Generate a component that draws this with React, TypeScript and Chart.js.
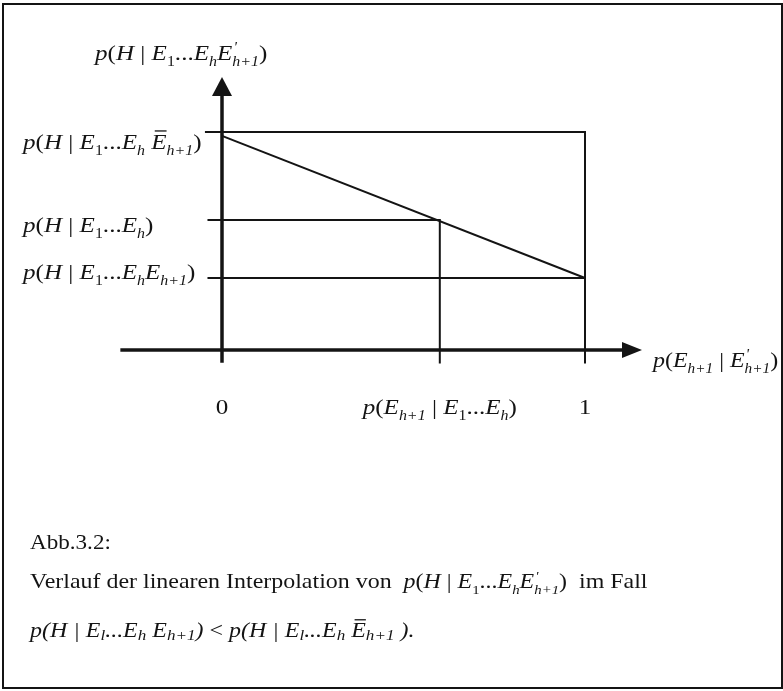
import React, { useEffect, useRef } from "react";
import { Chart, registerables } from "chart.js";

Chart.register(...registerables);

// ---- data (figure values in chart units) ----
const xTickValues = [0, 0.6, 1]; // 0, p(E_{h+1} | E1...Eh), 1
const yLevelValues = [1, 0.397, 0]; // p(H|..Ē), p(H|E1..Eh), p(H|..E)
const interpX = [0, 1];
const interpY = [0.973, 0];
const guideStartX = [-0.047, -0.04, -0.04];
const guideBottomY = -0.585;
const xAxisY = -0.493;
const xAxisRange = [-0.28, 1.157];
const yAxisRange = [-0.58, 1.377];

type Tok = [string, string];
// kinds: i italic, r roman, si sub italic, sr sub roman, q prime (stacked), o italic overlined
const yTitleLabel: Tok[] = [["p", "i"], ["(", "r"], ["H", "i"], [" | ", "r"], ["E", "i"], ["1", "sr"], ["...", "r"], ["E", "i"], ["h", "si"], ["E", "i"], ["'", "q"], ["h+1", "si"], [")", "r"]];
const yLevelLabels: Tok[][] = [
  [["p", "i"], ["(", "r"], ["H", "i"], [" | ", "r"], ["E", "i"], ["1", "sr"], ["...", "r"], ["E", "i"], ["h", "si"], [" ", "r"], ["E", "o"], ["h+1", "si"], [")", "r"]],
  [["p", "i"], ["(", "r"], ["H", "i"], [" | ", "r"], ["E", "i"], ["1", "sr"], ["...", "r"], ["E", "i"], ["h", "si"], [")", "r"]],
  [["p", "i"], ["(", "r"], ["H", "i"], [" | ", "r"], ["E", "i"], ["1", "sr"], ["...", "r"], ["E", "i"], ["h", "si"], ["E", "i"], ["h+1", "si"], [")", "r"]],
];
const xTickLabels: Tok[][] = [
  [["0", "r"]],
  [["p", "i"], ["(", "r"], ["E", "i"], ["h+1", "si"], [" | ", "r"], ["E", "i"], ["1", "sr"], ["...", "r"], ["E", "i"], ["h", "si"], [")", "r"]],
  [["1", "r"]],
];
const xTitleLabel: Tok[] = [["p", "i"], ["(", "r"], ["E", "i"], ["h+1", "si"], [" | ", "r"], ["E", "i"], ["'", "q"], ["h+1", "si"], [")", "r"]];
const captionTitle: Tok[] = [["Abb.3.2:", "r"]];
const captionLine1: Tok[] = [["Verlauf der linearen Interpolation von  ", "r"], ["p", "i"], ["(", "r"], ["H", "i"], [" | ", "r"], ["E", "i"], ["1", "sr"], ["...", "r"], ["E", "i"], ["h", "si"], ["E", "i"], ["'", "q"], ["h+1", "si"], [")", "r"], ["  im Fall", "r"]];
const captionLine2: Tok[] = [["p(H | E", "i"], ["l", "si"], ["...E", "i"], ["h", "si"], [" E", "i"], ["h+1", "si"], [")", "i"], [" < ", "r"], ["p(H | E", "i"], ["l", "si"], ["...E", "i"], ["h", "si"], [" ", "i"], ["E", "o"], ["h+1", "si"], [" ).", "i"]];

const FAMILY = '"Liberation Serif", "Times New Roman", serif';
const INK = "#141414";

function tokFont(kind: string, size: number, subScale: number) {
  const sub = kind === "si" || kind === "sr" || kind === "q";
  const s = sub ? Math.round(size * subScale) : size;
  const italic = kind === "i" || kind === "si" || kind === "o" || kind === "q";
  return `${italic ? "italic " : ""}${s}px ${FAMILY}`;
}

interface RichOpts {
  align?: "left" | "center";
  subDrop?: number;
  subScale?: number;
  stretch?: number;
}

function richWidth(ctx: CanvasRenderingContext2D, toks: Tok[], size: number, subScale: number) {
  let w = 0;
  for (const [t, k] of toks) {
    ctx.font = tokFont(k, size, subScale);
    if (k !== "q") w += ctx.measureText(t).width;
  }
  return w;
}

function drawRich(ctx: CanvasRenderingContext2D, toks: Tok[], x: number, y: number, size: number, opts: RichOpts = {}) {
  const align = opts.align || "left";
  const subDrop = opts.subDrop ?? 0.28;
  const subScale = opts.subScale ?? 0.64;
  const k = opts.stretch ?? 1;
  const total = richWidth(ctx, toks, size, subScale);
  const x0 = align === "center" ? x - (total * k) / 2 : x;
  ctx.save();
  ctx.translate(x0, y);
  ctx.scale(k, 1);
  ctx.fillStyle = INK;
  ctx.strokeStyle = INK;
  ctx.textAlign = "left";
  ctx.textBaseline = "alphabetic";
  let cx = 0;
  for (const [t, kind] of toks) {
    ctx.font = tokFont(kind, size, subScale);
    const w = ctx.measureText(t).width;
    if (kind === "si" || kind === "sr") {
      ctx.fillText(t, cx, size * subDrop);
      cx += w;
    } else if (kind === "q") {
      ctx.fillText(t, cx + 1, -size * 0.38);
    } else {
      ctx.fillText(t, cx, 0);
      if (kind === "o") {
        ctx.lineWidth = 1.3;
        ctx.beginPath();
        ctx.moveTo(cx + size * 0.14, -size * 0.82);
        ctx.lineTo(cx + w, -size * 0.82);
        ctx.stroke();
      }
      cx += w;
    }
  }
  ctx.restore();
}

const figurePlugin = {
  id: "figure",
  afterDraw(chart: any) {
    const ctx: CanvasRenderingContext2D = chart.ctx;
    const xs = chart.scales.x;
    const ys = chart.scales.y;
    const px = (v: number) => xs.getPixelForValue(v);
    const py = (v: number) => ys.getPixelForValue(v);
    ctx.save();
    // frame
    ctx.strokeStyle = INK;
    ctx.lineWidth = 2;
    ctx.strokeRect(3, 4, 779, 684);
    // arrow heads
    ctx.fillStyle = INK;
    const ax = px(0);
    const tipY = py(yAxisRange[1]);
    ctx.beginPath();
    ctx.moveTo(ax, tipY);
    ctx.lineTo(ax - 10, tipY + 19);
    ctx.lineTo(ax + 10, tipY + 19);
    ctx.closePath();
    ctx.fill();
    const tipX = px(xAxisRange[1]);
    const ay = py(xAxisY);
    ctx.beginPath();
    ctx.moveTo(tipX, ay);
    ctx.lineTo(tipX - 20, ay - 8);
    ctx.lineTo(tipX - 20, ay + 8);
    ctx.closePath();
    ctx.fill();
    ctx.restore();

    const S = 22;
    const L: RichOpts = { stretch: 1.14, subScale: 0.62 };
    // y-axis title
    drawRich(ctx, yTitleLabel, ax - 127, tipY - 17, S, L);
    // level labels
    const lvOff = [17, 12, 1];
    yLevelLabels.forEach((lab, i) => drawRich(ctx, lab, ax - 199, py(yLevelValues[i]) + lvOff[i], S, L));
    // x tick labels
    xTickLabels.forEach((lab, i) => drawRich(ctx, lab, px(xTickValues[i]), 414, S, { ...L, align: "center" }));
    // x-axis title
    drawRich(ctx, xTitleLabel, tipX + 11, ay + 17, S, { stretch: 1.09, subScale: 0.62 });
    // caption
    drawRich(ctx, captionTitle, 30, 549, 21, { stretch: 1.1 });
    drawRich(ctx, captionLine1, 30, 588, 21, { stretch: 1.14, subScale: 0.62 });
    drawRich(ctx, captionLine2, 30, 637, 21, { stretch: 1.14, subDrop: 0.12, subScale: 0.7 });
  },
};

export default function App() {
  const ref = useRef<HTMLCanvasElement | null>(null);
  useEffect(() => {
    if (!ref.current) return;
    const line = (data: { x: number; y: number }[], w: number) => ({
      data,
      showLine: true,
      borderColor: INK,
      borderWidth: w,
      pointRadius: 0,
      fill: false,
      tension: 0,
    });
    const guides = [
      [{ x: guideStartX[0], y: yLevelValues[0] }, { x: xTickValues[2], y: yLevelValues[0] }, { x: xTickValues[2], y: guideBottomY }],
      [{ x: guideStartX[1], y: yLevelValues[1] }, { x: xTickValues[1], y: yLevelValues[1] }, { x: xTickValues[1], y: guideBottomY }],
      [{ x: guideStartX[2], y: yLevelValues[2] }, { x: xTickValues[2], y: yLevelValues[2] }],
    ];
    const chart = new Chart(ref.current, {
      type: "scatter",
      data: {
        datasets: [
          line(interpX.map((x, i) => ({ x, y: interpY[i] })), 2),
          ...guides.map((g) => line(g, 2)),
          line([{ x: 0, y: yAxisRange[0] }, { x: 0, y: yAxisRange[1] - 0.12 }], 3.5),
          line([{ x: xAxisRange[0], y: xAxisY }, { x: xAxisRange[1] - 0.05, y: xAxisY }], 3.5),
        ] as any,
      },
      options: {
        animation: false,
        responsive: false,
        devicePixelRatio: 1,
        layout: { padding: { left: 113.1, right: 125.4, top: 59, bottom: 325.4 } },
        scales: {
          x: { type: "linear", min: -0.3, max: 1.2, display: false },
          y: { type: "linear", min: -0.6, max: 1.5, display: false },
        },
        plugins: { legend: { display: false }, tooltip: { enabled: false } },
      },
      plugins: [figurePlugin],
    });
    return () => chart.destroy();
  }, []);
  return (
    <div style={{ position: "absolute", left: 0, top: 0, width: 783, height: 691, background: "#fff" }}>
      <canvas ref={ref} width={783} height={691} />
    </div>
  );
}
